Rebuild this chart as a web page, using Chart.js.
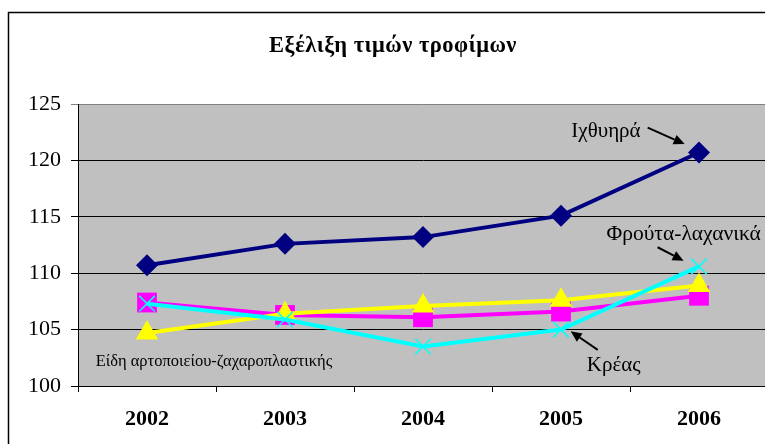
<!DOCTYPE html>
<html>
<head>
<meta charset="utf-8">
<script src="https://cdn.jsdelivr.net/npm/chart.js@4/dist/chart.umd.min.js"></script>
<style>
html,body{margin:0;padding:0;background:#fff;overflow:hidden;width:765px;height:444px;}
canvas{display:block;}
</style>
</head>
<body>
<canvas id="c" width="800" height="444"></canvas>
<script>
const years = ['2002','2003','2004','2005','2006'];
const fish = [110.7, 112.6, 113.2, 115.1, 120.7];       // Ιχθυηρά
const bakery = [104.7, 106.4, 107.1, 107.6, 108.9];     // Είδη αρτοποιείου-ζαχαροπλαστικής
const other = [107.4, 106.3, 106.1, 106.6, 108.0];      // magenta series
const meat = [107.3, 105.9, 103.5, 105.0, 110.6];       // Κρέας / Φρούτα-λαχανικά
const yTicks = [100, 105, 110, 115, 120, 125];
const titleText = 'Εξέλιξη τιμών τροφίμων';

const SERIF = "'Liberation Serif', 'Times New Roman', serif";

// annotation anchors in data space: [category index, value]
const notes = [
  {text:'Ιχθυηρά', at:[3.326,122.6], size:21, arrow:[[3.628,122.9],[3.896,121.45]]},
  {text:'Φρούτα-λαχανικά', at:[3.889,113.43], size:21.5, arrow:[[3.70,112.3],[3.888,111.1]]},
  {text:'Κρέας', at:[3.382,101.86], size:21, arrow:[[3.266,103.2],[3.070,104.85]]},
  {text:'Είδη αρτοποιείου-ζαχαροπλαστικής', at:[0.485,102.12], size:16.5, arrow:null}
];

const decor = {
  id:'decor',
  beforeDraw(chart){
    const ctx = chart.ctx, a = chart.chartArea;
    ctx.save();
    ctx.fillStyle = '#fff';
    ctx.fillRect(0,0,chart.width,chart.height);
    ctx.strokeStyle = '#000';
    ctx.lineWidth = 1.5;
    ctx.strokeRect(8.5,12.5,900,600);
    ctx.fillStyle = '#C0C0C0';
    ctx.fillRect(a.left,a.top,a.right-a.left,a.bottom-a.top);
    ctx.restore();
  },
  afterDatasetsDraw(chart){
    const ctx = chart.ctx, xs = chart.scales.x, ys = chart.scales.y;
    const px = v => xs.getPixelForValue(0) + v*(xs.getPixelForValue(1)-xs.getPixelForValue(0));
    const py = v => ys.getPixelForValue(v);
    ctx.save();
    ctx.fillStyle = '#000';
    ctx.strokeStyle = '#000';
    ctx.textAlign = 'center';
    ctx.textBaseline = 'middle';
    for (const n of notes){
      ctx.font = n.size + 'px ' + SERIF;
      ctx.fillText(n.text, px(n.at[0]), py(n.at[1]));
      if (n.arrow){
        const x1 = px(n.arrow[0][0]), y1 = py(n.arrow[0][1]);
        const x2 = px(n.arrow[1][0]), y2 = py(n.arrow[1][1]);
        const ang = Math.atan2(y2-y1, x2-x1);
        const hl = 11, hw = 5;
        const bx = x2 - hl*Math.cos(ang), by = y2 - hl*Math.sin(ang);
        ctx.lineWidth = 2;
        ctx.beginPath();
        ctx.moveTo(x1,y1); ctx.lineTo(bx,by); ctx.stroke();
        ctx.beginPath();
        ctx.moveTo(x2,y2);
        ctx.lineTo(bx + hw*Math.sin(ang), by - hw*Math.cos(ang));
        ctx.lineTo(bx - hw*Math.sin(ang), by + hw*Math.cos(ang));
        ctx.closePath(); ctx.fill();
      }
    }
    ctx.restore();
  },
  afterDraw(chart){
    const ctx = chart.ctx;
    ctx.save();
    ctx.fillStyle = '#000';
    ctx.font = 'bold 22.5px ' + SERIF;
    ctx.letterSpacing = '0.5px';
    ctx.textAlign = 'center';
    ctx.textBaseline = 'middle';
    ctx.fillText(titleText, 393, 46);
    ctx.restore();
  }
};

new Chart(document.getElementById('c'), {
  type:'line',
  data:{
    labels: years,
    datasets:[
      {label:'Κρέας', data:meat, order:0, borderColor:'#00FFFF', backgroundColor:'#00FFFF',
       borderWidth:4, pointStyle:'crossRot', pointRadius:11, pointBorderWidth:1.5, pointBorderColor:'#00FFFF'},
      {label:'Είδη αρτοποιείου-ζαχαροπλαστικής', data:bakery, order:1, borderColor:'#FFFF00', backgroundColor:'#FFFF00',
       borderWidth:4, pointStyle:'triangle', pointRadius:13, pointBorderWidth:0},
      {label:'Άλλα', data:other, order:2, borderColor:'#FF00FF', backgroundColor:'#FF00FF',
       borderWidth:4, pointStyle:'rect', pointRadius:14, pointBorderWidth:0},
      {label:'Ιχθυηρά', data:fish, order:3, borderColor:'#000080', backgroundColor:'#000080',
       borderWidth:4, pointStyle:'rectRot', pointRadius:11, pointBorderWidth:0}
    ]
  },
  options:{
    responsive:false,
    animation:false,
    devicePixelRatio:1,
    layout:{padding:{top:104,left:0,right:32,bottom:0}},
    plugins:{legend:{display:false},title:{display:false},tooltip:{enabled:false}},
    elements:{line:{tension:0}},
    scales:{
      x:{
        offset:true,
        grid:{offset:true, drawOnChartArea:false, tickLength:6, color:'#000', lineWidth:1},
        border:{display:true, color:'#000', width:1},
        ticks:{color:'#000', padding:14, font:{family:SERIF, size:22, weight:'bold'}},
        afterFit(s){ s.height = 58; }
      },
      y:{
        min:100, max:125,
        afterBuildTicks(s){ s.ticks = yTicks.map(v=>({value:v})); },
        grid:{color:c => (c.tick && c.tick.value===125) ? '#808080' : '#000', tickLength:7, lineWidth:1},
        border:{display:true, color:'#000', width:1},
        ticks:{color:'#000', padding:10, font:{family:SERIF, size:22}},
        afterFit(s){ s.width = 78; }
      }
    }
  },
  plugins:[decor]
});
</script>
</body>
</html>
